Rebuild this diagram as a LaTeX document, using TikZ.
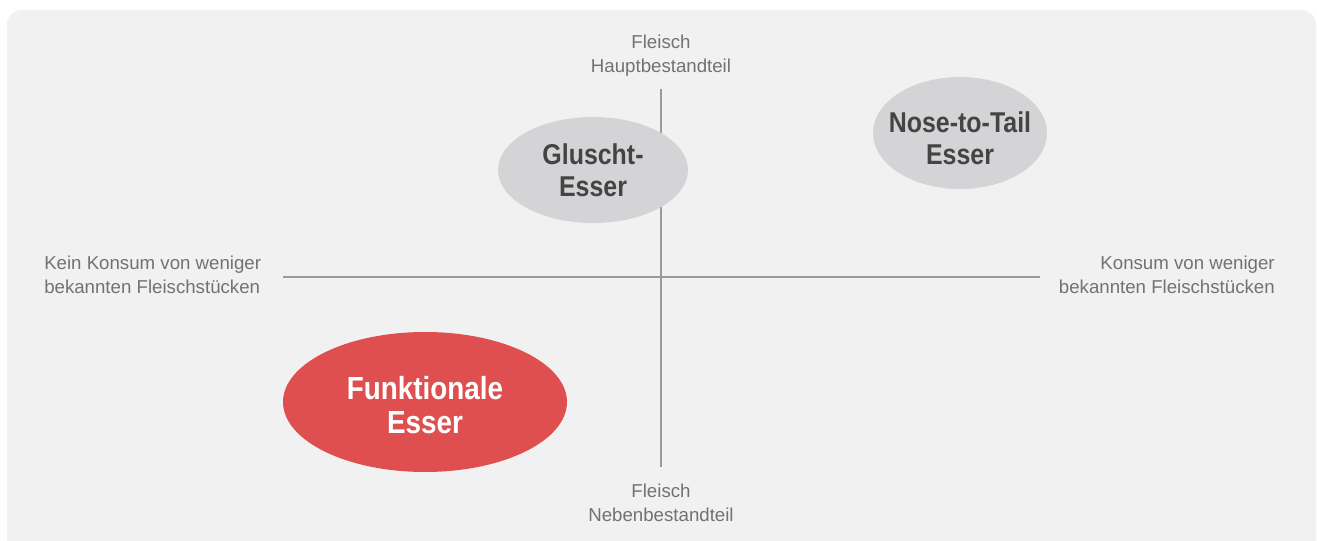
\documentclass[tikz,border=0pt]{standalone}
\usepackage{fontspec}
\setmainfont{Liberation Sans}
\newfontfamily\condfont[FakeStretch=0.87]{Liberation Sans}
\usetikzlibrary{shapes.geometric}
\definecolor{panelbg}{HTML}{F1F1F1}
\definecolor{axisgray}{HTML}{9A9A9A}
\definecolor{labelgray}{HTML}{727272}
\definecolor{ellgray}{HTML}{D4D4D6}
\definecolor{ellred}{HTML}{DF4F4F}
\definecolor{darktext}{HTML}{444444}
\tikzset{
  axisline/.style={draw=axisgray, line width=1.5pt},
  axislabel/.style={text=labelgray, font=\fontsize{14}{18}\selectfont, inner sep=0pt, anchor=base},
  grayell/.style={ellipse, fill=ellgray, inner sep=0pt},
  redell/.style={ellipse, fill=ellred, inner sep=0pt},
  graytext/.style={inner sep=0pt, text=darktext, align=center,
    font=\condfont\bfseries\fontsize{21.5}{24}\selectfont},
  redtext/.style={inner sep=0pt, text=white, align=center,
    font=\condfont\bfseries\fontsize{24}{25}\selectfont},
}
\begin{document}
\begin{tikzpicture}[x=0.75pt,y=-0.75pt]
\useasboundingbox (0,0) rectangle (1317,541);
\fill[white] (0,0) rectangle (1317,541);
\fill[panelbg, rounded corners=11pt] (7,10) rectangle (1316,556);
\fill[white] (0,541) rectangle (1317,560);
% axes
\coordinate (vtop) at (661,89);
\coordinate (vbot) at (661,467);
\coordinate (hleft) at (283,277);
\coordinate (hright) at (1040,277);
\draw[axisline] (vtop) -- (vbot);
\draw[axisline] (hleft) -- (hright);
% labels (base anchor = last line's baseline)
\node[axislabel, align=center] (top) at (661,73) {Fleisch\\Hauptbestandteil};
\node[axislabel, align=center] (bottom) at (661,521.5) {Fleisch\\Nebenbestandteil};
\node[axislabel, align=left, anchor=base west] (left) at (44,294) {Kein Konsum von weniger\\bekannten Fleischstücken};
\node[axislabel, align=right, anchor=base east] (right) at (1275,294) {Konsum von weniger\\bekannten Fleischstücken};
% ellipses
\node[grayell, minimum width=142.5pt, minimum height=79.5pt] (gluscht) at (593,170) {};
\node[graytext] (glusctext) at (gluscht.center) {Gluscht-\\Esser};
\node[grayell, minimum width=130.5pt, minimum height=84pt] (nose) at (960,133) {};
\node[graytext] (nosetext) at (960,138) {Nose-to-Tail\\Esser};
\node[redell, minimum width=213pt, minimum height=105pt] (funk) at (425,402) {};
\node[redtext] (funktext) at (425,405) {Funktionale\\Esser};
\end{tikzpicture}
\end{document}
